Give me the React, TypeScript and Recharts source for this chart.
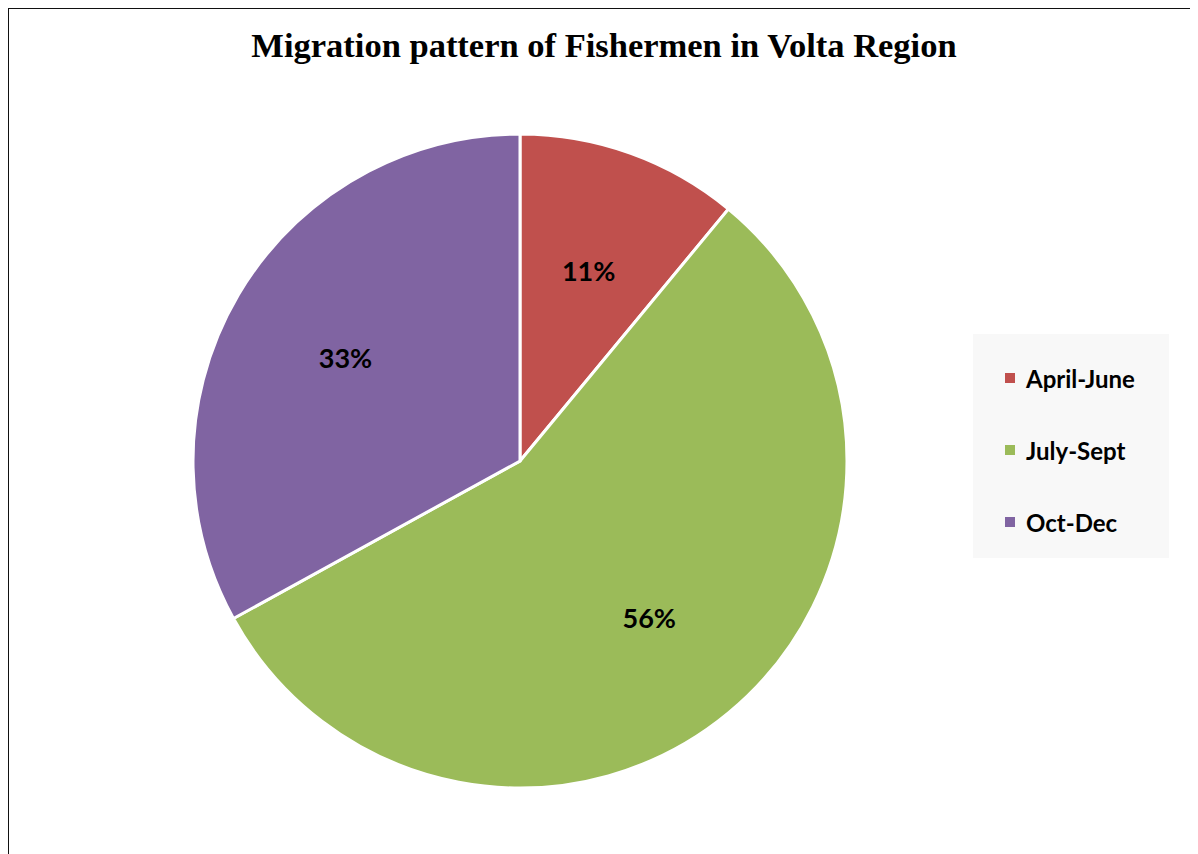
import React from "react"
import { Legend, Pie, PieChart } from "recharts"

// Migration pattern of fishermen, share by season
const seasons = ["April-June", "July-Sept", "Oct-Dec"]
const shares = [11, 56, 33]
const sliceColors = ["#C0504D", "#9BBB59", "#8064A2"]

const data = seasons.map((name, i) => ({ name, value: shares[i], fill: sliceColors[i] }))

const RADIAN = Math.PI / 180

function renderLabel({ cx, cy, midAngle, outerRadius, value }: any) {
  const r = outerRadius * 0.62
  const x = cx + r * Math.cos(-midAngle * RADIAN)
  const y = cy + r * Math.sin(-midAngle * RADIAN)
  return (
    <text
      x={x}
      y={y}
      textAnchor="middle"
      dominantBaseline="central"
      fill="#000"
      style={{ fontFamily: "Lato, sans-serif", fontWeight: 700, fontSize: 27 }}
    >
      {value}%
    </text>
  )
}

function LegendBox() {
  return (
    <div
      style={{
        background: "#f8f8f8",
        width: 196,
        height: 224,
        boxSizing: "border-box",
        padding: "8px 0 0 32px",
        fontFamily: "Lato, sans-serif",
        fontWeight: 700,
        fontSize: 24,
        color: "#000",
      }}
    >
      {data.map((d) => (
        <div key={d.name} style={{ display: "flex", alignItems: "center", height: 72 }}>
          <span style={{ width: 10, height: 10, background: d.fill, marginRight: 11, flexShrink: 0 }} />
          <span>{d.name}</span>
        </div>
      ))}
    </div>
  )
}

export default function App() {
  return (
    <div
      style={{
        position: "relative",
        width: 1190,
        height: 846,
        marginLeft: -1,
        marginTop: -1,
        borderLeft: "2px solid #111",
        borderTop: "2px solid #111",
        overflow: "hidden",
        background: "#fff",
      }}
    >
      <div
        style={{
          position: "absolute",
          left: 0,
          top: 16,
          width: 1190,
          textAlign: "center",
          fontFamily: "'Liberation Serif', 'Times New Roman', serif",
          fontWeight: 700,
          fontSize: 34.5,
          lineHeight: "40px",
          color: "#000",
        }}
      >
        Migration pattern of Fishermen in Volta Region
      </div>
      <div style={{ position: "absolute", left: 0, top: 0 }}>
        <PieChart width={1188} height={844} margin={{ top: 0, right: 0, bottom: 0, left: 0 }}>
          <Pie
            data={data}
            dataKey="value"
            nameKey="name"
            cx={511}
            cy={452}
            outerRadius={327}
            startAngle={90}
            endAngle={-270}
            stroke="#fff"
            strokeWidth={3}
            label={renderLabel}
            labelLine={false}
            isAnimationActive={false}
          />
          <Legend
            layout="vertical"
            align="right"
            verticalAlign="top"
            content={() => <LegendBox />}
            wrapperStyle={{ left: 964, top: 325, width: 196 }}
          />
        </PieChart>
      </div>
    </div>
  )
}
